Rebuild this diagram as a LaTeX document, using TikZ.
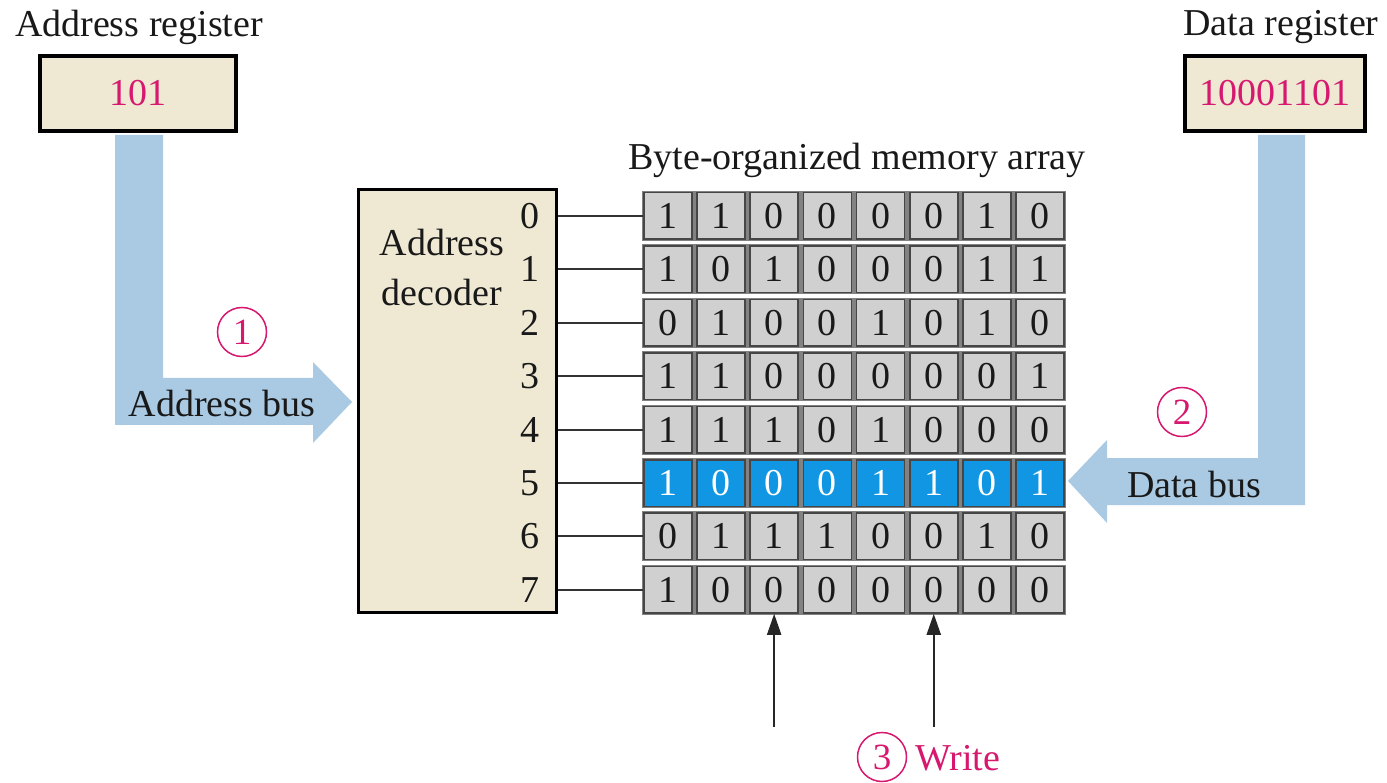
\documentclass[tikz,border=0pt]{standalone}
\usepackage{fontspec}
\setmainfont{Liberation Serif}
\usetikzlibrary{arrows.meta}
\definecolor{regfill}{RGB}{239,233,212}
\definecolor{busblue}{RGB}{170,202,228}
\definecolor{mag}{RGB}{214,24,110}
\definecolor{cellgray}{RGB}{208,208,208}
\definecolor{cellblue}{RGB}{16,150,226}
\definecolor{edge}{RGB}{70,70,70}
\definecolor{gapgray}{RGB}{130,130,130}
\newcommand\txtsize{\fontsize{38}{44}\selectfont}
\begin{document}
\begin{tikzpicture}[x=1pt,y=-1pt,font=\txtsize,
  reg/.style={draw=black,line width=4pt,fill=regfill,inner sep=0pt,text=mag,minimum height=75pt},
  dec/.style={draw=black,line width=3pt,fill=regfill,inner sep=0pt,minimum width=198pt,minimum height=422pt},
  cell/.style={draw=edge,line width=1.5pt,fill=cellgray,inner sep=0pt,minimum width=48pt,minimum height=46.5pt,text=black!90},
  hcell/.style={cell,fill=cellblue,text=white},
  rowline/.style={draw=black!80,line width=2pt},
  bus/.style={fill=busblue},
  circnum/.style={circle,draw=mag,line width=1.5pt,minimum size=49pt,inner sep=0pt,text=mag,font=\fontsize{37}{40}\selectfont},
  wr/.style={draw=black!85,line width=2pt,-{Triangle[length=21pt,width=14pt]}},
  lbl/.style={inner sep=0pt,text=black!90}]
\useasboundingbox (0,0) rectangle (1387,783);

% buses
\fill[bus] (115,135) -- (163,135) -- (163,378) -- (313,378) -- (313,362) -- (352,402)
  -- (313,443) -- (313,425) -- (115,425) -- cycle;
\fill[bus] (1258,135) -- (1305,135) -- (1305,505) -- (1107,505) -- (1107,523) -- (1068,481)
  -- (1107,440) -- (1107,458) -- (1258,458) -- cycle;
\node[lbl] (abus) at (222,404) {Address bus};
\node[lbl] (dbus) at (1194,485) {Data bus};
\node[circnum] (n1) at (242,332) {1};
\node[circnum] (n2) at (1182,412) {2};

% registers
\node[lbl] (aregl) at (139,27) {Address register};
\node[reg,minimum width=196pt] (areg) at (138,93.5) {101};
\node[lbl] (dregl) at (1281,27) {Data register};
\node[reg,minimum width=180pt] (dreg) at (1275,93.5) {10001101};

% address decoder
\node[dec] (dec) at (457,401) {};
\node[lbl] (dect1) at (442,243) {Address};
\node[lbl] (dect2) at (442,293) {decoder};

% memory array
\node[lbl] (title) at (857,160) {Byte-organized memory array};
\foreach \row [count=\r from 0] in {{1,1,0,0,0,0,1,0},{1,0,1,0,0,0,1,1},{0,1,0,0,1,0,1,0},
  {1,1,0,0,0,0,0,1},{1,1,1,0,1,0,0,0},{1,0,0,0,1,1,0,1},{0,1,1,1,0,0,1,0},{1,0,0,0,0,0,0,0}}{
  \pgfmathsetmacro\ry{216+53.4*\r}
  \fill[gapgray] (642,\ry-25) rectangle (1066,\ry+25);
  \ifnum\r=5 \def\cs{hcell}\else\def\cs{cell}\fi
  \foreach \b [count=\c from 0] in \row {
    \node[\cs] (c-\r-\c) at ({667.75+53.2*\c},\ry) {\b};
  }
  \node[lbl] (rn-\r) at (530,\ry) {\r};
  \draw[rowline] (dec.east |- c-\r-0.west) -- (c-\r-0.west);
}

% write lines
\coordinate (w1) at (c-7-2.south |- 0,727);
\coordinate (w2) at (c-7-5.south |- 0,727);
\draw[wr] (w1) -- (c-7-2.south);
\draw[wr] (w2) -- (c-7-5.south);
\node[circnum] (n3) at (882,757) {3};
\node[lbl,anchor=base west,text=mag] (wlbl) at (915,770) {Write};
\end{tikzpicture}
\end{document}
